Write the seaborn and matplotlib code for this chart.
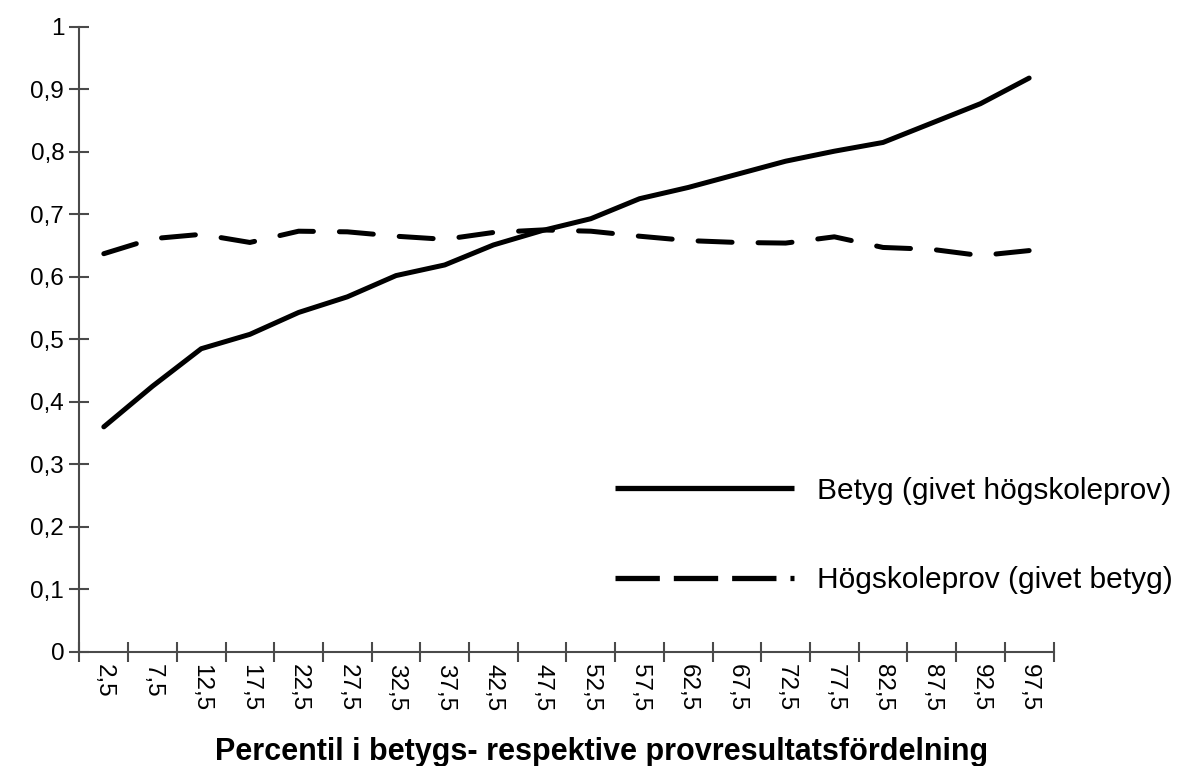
import matplotlib
matplotlib.use("Agg")
import matplotlib.pyplot as plt
import seaborn as sns
import pandas as pd
from matplotlib.lines import Line2D
from matplotlib.ticker import FixedLocator

percentiles = ["2,5", "7,5", "12,5", "17,5", "22,5", "27,5", "32,5", "37,5", "42,5", "47,5",
               "52,5", "57,5", "62,5", "67,5", "72,5", "77,5", "82,5", "87,5", "92,5", "97,5"]
betyg = [0.360, 0.425, 0.485, 0.508, 0.543, 0.568, 0.602, 0.619, 0.651, 0.674,
         0.693, 0.725, 0.743, 0.764, 0.785, 0.801, 0.815, 0.846, 0.877, 0.918]
hogskoleprov = [0.637, 0.661, 0.668, 0.655, 0.673, 0.672, 0.665, 0.660, 0.671, 0.675,
                0.673, 0.665, 0.658, 0.655, 0.654, 0.664, 0.647, 0.644, 0.634, 0.642]
y_ticks = [0, 0.1, 0.2, 0.3, 0.4, 0.5, 0.6, 0.7, 0.8, 0.9, 1.0]
y_tick_labels = ["0", "0,1", "0,2", "0,3", "0,4", "0,5", "0,6", "0,7", "0,8", "0,9", "1"]
label_betyg = "Betyg (givet högskoleprov)"
label_prov = "Högskoleprov (givet betyg)"

df = pd.DataFrame({
    "pos": list(range(len(percentiles))) * 2,
    "value": betyg + hogskoleprov,
    "serie": [label_betyg] * len(betyg) + [label_prov] * len(hogskoleprov),
})

sns.set_style("white", {"text.color": "black", "xtick.color": "black",
                        "ytick.color": "black", "axes.labelcolor": "black"})
plt.rcParams['font.family'] = ['Liberation Sans', 'DejaVu Sans']

fig = plt.figure(figsize=(12.04, 7.66), dpi=100)
ax = fig.add_axes([0.066, 0.149, 0.809, 0.816])

sns.lineplot(data=df, x="pos", y="value", style="serie", color="black",
             dashes={label_betyg: "", label_prov: (6.8, 5.2)}, linewidth=3.6,
             legend=False, ax=ax)
for ln in ax.get_lines():
    ln.set_solid_capstyle("round")
    ln.set_dash_capstyle("round")
    ln.set_solid_joinstyle("round")

axis_grey = "#4a4a4a"
ax.set_xlim(-0.5, len(percentiles) - 0.5)
ax.set_ylim(0, 1)
ax.set_yticks(y_ticks)
ax.set_yticklabels(y_tick_labels, fontsize=17.5, color="black")
ax.set_xticks(range(len(percentiles)))
ax.set_xticklabels(percentiles, rotation=270, fontsize=17.5, va="top", color="black")
ax.xaxis.set_minor_locator(FixedLocator([i - 0.5 for i in range(len(percentiles) + 1)]))
ax.tick_params(axis="x", which="major", bottom=True, length=0, pad=9)
ax.tick_params(axis="x", which="minor", bottom=True, length=14, width=1.5,
               direction="inout", color=axis_grey)
ax.tick_params(axis="y", left=True, length=14, width=1.5, direction="inout",
               color=axis_grey, pad=4)
ax.set_xlabel("Percentil i betygs- respektive provresultatsfördelning",
              fontsize=22, fontweight="bold", color="black")
ax.xaxis.set_label_coords(0.536, -0.137)
ax.set_ylabel("")

for side in ["top", "right"]:
    ax.spines[side].set_visible(False)
for side in ["left", "bottom"]:
    ax.spines[side].set_color(axis_grey)
    ax.spines[side].set_linewidth(1.5)

handles = [
    Line2D([], [], color="black", linewidth=3.8, solid_capstyle="butt"),
    Line2D([], [], color="black", linewidth=3.8, dashes=(8.4, 2.65), dash_capstyle="butt"),
]
leg = ax.legend(handles, [label_betyg, label_prov], loc="center left",
                bbox_to_anchor=(0.511, 0.201, 0.5, 0.2), bbox_transform=fig.transFigure,
                frameon=False, fontsize=21.5, handlelength=6.0, handletextpad=0.77,
                labelspacing=2.05, borderaxespad=0, borderpad=0)
for t in leg.get_texts():
    t.set_color("black")

fig.savefig("out.png", dpi=100)
